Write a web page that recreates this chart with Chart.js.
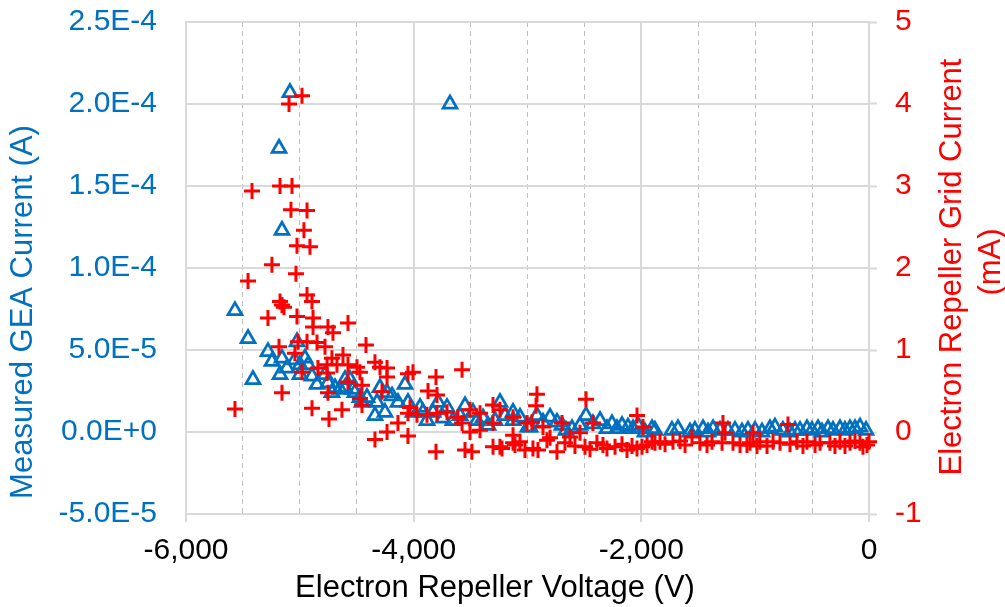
<!DOCTYPE html>
<html>
<head>
<meta charset="utf-8">
<script src="https://cdn.jsdelivr.net/npm/chart.js@4.4.1/dist/chart.umd.min.js"></script>
<style>
  html, body { margin: 0; padding: 0; background: #ffffff; }
  canvas { display: block; }
</style>
</head>
<body>
<canvas id="chart" width="1005" height="607"></canvas>
<script>
// Electron repeller grid current (mA), plotted against the right axis
const gridVoltage = [
  -4981, -5095, -5420, -5174, -5069, -5078, -4937, -4964, -5025, -4911,
  -5245, -5034, -5455, -4937, -4893, -5174, -5157, -5139, -5025, -5280,
  -4884, -4884, -4753, -4709, -4577, -5016, -4937, -4849, -4779, -5183,
  -5043, -4419, -4718, -4621, -4674, -4761, -4577, -4498, -4841, -4340,
  -4296, -4234, -4234, -4472, -4981, -4761, -4006, -4050, -3804, -3575,
  -4577, -4454, -5157, -4753, -4278, -3874, -3795, -4472, -4454, -4893,
  -4630, -5570, -4744, -4032, -4050, -3971, -4138, -4234, -4340, -4050,
  -3883, -3795, -3707, -3611, -3505, -3417, -3303, -3242, -3127, -3004,
  -3575, -3505, -3417, -3804, -3549, -3488, -3303, -3224, -3127, -3066,
  -3127, -3303, -2917, -2925, -2486, -2038, -2961, -2697, -2864, -3242,
  -3110, -2952, -2908, -2741, -2671, -2802, -2539, -2495, -2425, -2390,
  -2302, -2231, -2126, -2038, -1985, -1994, -1906, -1880, -1722, -1616,
  -1555, -1423, -1379, -1283, -1265, -1291, -1195, -1133, -1072, -1019,
  -1045, -958, -843, -782, -712, -633, -545, -430, -343, -255,
  -167, -79, -18, -211, -123, -53, 0, -299, -474, -580,
  -694, -896, -984, -1485, -1660, -1792, -1836, -1950, -2082, -2170,
  -2337, -2451, -2583, -2627, -2829, -3022
];
const gridCurrent = [
  4.10, 4.00, 2.94, 3.00, 3.00, 2.71, 2.70, 2.46, 2.27, 2.26,
  2.04, 1.93, 1.84, 1.67, 1.59, 1.59, 1.55, 1.52, 1.41, 1.39,
  1.39, 1.28, 1.28, 1.21, 1.33, 1.10, 1.10, 1.09, 1.04, 1.04,
  0.96, 1.06, 0.90, 0.94, 0.82, 0.82, 0.82, 0.79, 0.78, 0.85,
  0.79, 0.78, 0.67, 0.73, 0.73, 0.72, 0.73, 0.71, 0.67, 0.76,
  0.61, 0.57, 0.48, 0.48, 0.49, 0.50, 0.45, 0.41, 0.33, 0.29,
  0.27, 0.28, 0.16, 0.30, 0.23, 0.21, 0.11, 0.00, -0.09, -0.05,
  0.21, 0.23, 0.24, 0.18, 0.27, 0.23, 0.33, 0.27, 0.18, 0.11,
  0.11, 0.00, 0.02, -0.24, -0.22, -0.24, -0.18, -0.20, -0.13, -0.12,
  -0.04, 0.11, 0.46, 0.32, 0.40, 0.20, 0.12, 0.11, 0.06, -0.18,
  -0.16, -0.20, -0.22, -0.24, -0.13, -0.07, -0.01, -0.18, 0.11, -0.13,
  -0.20, -0.18, -0.22, -0.20, 0.06, -0.18, -0.12, -0.13, -0.12, -0.16,
  -0.06, -0.16, -0.12, 0.11, -0.01, -0.13, -0.13, -0.16, -0.16, -0.01,
  -0.13, -0.12, -0.12, -0.13, 0.09, -0.12, -0.12, -0.13, -0.13, -0.12,
  -0.13, -0.13, -0.16, -0.17, -0.11, -0.18, -0.12, -0.17, -0.16, -0.17,
  -0.15, -0.17, -0.17, -0.13, -0.11, -0.15, -0.12, -0.16, -0.17, -0.15,
  -0.16, -0.21, -0.17, -0.06, -0.10, -0.22
];

// Measured GEA current (A), plotted against the left axis
const geaVoltage = [
  -5570, -5455, -5412, -5280, -5245, -5183, -5174, -5157, -5157, -5113,
  -5087, -5025, -5043, -4999, -4955, -4928, -4999, -4893, -4849, -4779,
  -4753, -4718, -4691, -4647, -4603, -4559, -4533, -4472, -4454, -4410,
  -4322, -4296, -4340, -4252, -4234, -4138, -4076, -4050, -4006, -3918,
  -3883, -3830, -3786, -3707, -3655, -3681, -3549, -3479, -3444, -3347,
  -3242, -3127, -3066, -2996, -4190, -3944, -3742, -3593, -3391, -3286,
  -4516, -4603, -3198, -3127, -2978, -2917, -2864, -2802, -2741, -2697,
  -2662, -2609, -2539, -2486, -2425, -2363, -2302, -2258, -2214, -2170,
  -2117, -2073, -2029, -1968, -1906, -1880, -1731, -1678, -1573, -1529,
  -1458, -1414, -1370, -1309, -1239, -1177, -1116, -1063, -1001, -940,
  -870, -826, -756, -694, -650, -606, -545, -501, -448, -413,
  -360, -316, -255, -211, -167, -123, -79, -26
];
const geaCurrent = [
  7.4e-5, 5.7e-5, 3.2e-5, 4.9e-5, 4.3e-5, 1.73e-4, 3.5e-5, 1.23e-4, 4.5e-5, 3.9e-5,
  2.07e-4, 5.5e-5, 4.4e-5, 4.1e-5, 4.5e-5, 4.1e-5, 3.5e-5, 3.4e-5, 2.9e-5, 3.5e-5,
  3.0e-5, 2.4e-5, 2.7e-5, 2.6e-5, 2.7e-5, 3.2e-5, 2.6e-5, 2.1e-5, 1.8e-5, 2.1e-5,
  1.8e-5, 2.7e-5, 1.0e-5, 1.2e-5, 2.4e-5, 1.8e-5, 2.9e-5, 1.8e-5, 1.2e-5, 1.2e-5,
  7e-6, 1.2e-5, 1.8e-5, 1.5e-5, 7e-6, 2.0e-4, 1.6e-5, 1.2e-5, 7e-6, 4e-6,
  1.8e-5, 1.2e-5, 9e-6, 3e-6, 2.2e-5, 1.5e-5, 8.5e-6, 1.0e-5, 8.5e-6, 7e-6,
  2.4e-5, 3.2e-5, 1.0e-5, 7e-6, 3e-6, 1.0e-5, 6e-6, 9e-6, 6e-6, 4e-6,
  1e-6, 2e-6, 4e-6, 1.0e-5, 5e-6, 7e-6, 2e-6, 5e-6, 2e-6, 4e-6,
  3e-6, 2e-6, 4e-6, 0, 2e-6, 1e-6, 1e-6, 2e-6, 0, 1e-6,
  2e-6, 0, 2e-6, 1e-6, 1e-6, 1e-6, 0, 1e-6, 1e-6, 0,
  2e-6, 3e-6, 1e-6, 0, 1e-6, 1e-6, 2e-6, 1e-6, 2e-6, 0,
  2e-6, 1e-6, 2e-6, 1e-6, 2e-6, 2e-6, 3e-6, 1e-6
];

// Axis tick labels
const xMajorTicks = [-6000, -4000, -2000, 0];
const xTickLabels = ['-6,000', '-4,000', '-2,000', '0'];
const leftTickLabels = ['-5.0E-5', '0.0E+0', '5.0E-5', '1.0E-4', '1.5E-4', '2.0E-4', '2.5E-4'];
const rightTickLabels = ['-1', '0', '1', '2', '3', '4', '5'];

// Axis titles
const xTitle = 'Electron Repeller Voltage (V)';
const leftTitle = 'Measured GEA Current (A)';
const rightTitle = ['Electron Repeller Grid Current', '(mA)'];

const BLUE = '#0070C0';
const RED = '#FF0000';
const GRID = '#D9D9D9';
const FONT = '"Liberation Sans", Arial, Helvetica, sans-serif';

const toPoints = (xs, ys) => xs.map((x, i) => ({ x: x, y: ys[i] }));
const isMajorX = v => xMajorTicks.includes(v);

// Fixed box sizes so the plot area sits where the axis labels expect it
function fixBox(width, height) {
  return function (scale) {
    if (width !== null) scale.width = width;
    if (height !== null) scale.height = height;
    scale.paddingTop = 0;
    scale.paddingBottom = 0;
    scale.paddingLeft = 0;
    scale.paddingRight = 0;
  };
}

const axisTitles = {
  id: 'axisTitles',
  afterDraw(chart) {
    const ctx = chart.ctx;
    ctx.save();
    ctx.font = '31px ' + FONT;
    ctx.textAlign = 'center';
    ctx.textBaseline = 'middle';

    ctx.fillStyle = '#000000';
    ctx.fillText(xTitle, 495, 588);

    ctx.save();
    ctx.translate(23, 312);
    ctx.rotate(-Math.PI / 2);
    ctx.fillStyle = BLUE;
    ctx.fillText(leftTitle, 0, 0);
    ctx.restore();

    ctx.save();
    ctx.translate(952, 267);
    ctx.rotate(-Math.PI / 2);
    ctx.fillStyle = RED;
    ctx.fillText(rightTitle[0], 0, 0);
    ctx.fillText(rightTitle[1], 5, 39);
    ctx.restore();

    ctx.restore();
  }
};

Chart.defaults.font.family = FONT;

new Chart(document.getElementById('chart'), {
  type: 'scatter',
  data: {
    datasets: [
      {
        label: 'Electron Repeller Grid Current',
        data: toPoints(gridVoltage, gridCurrent),
        yAxisID: 'y2',
        pointStyle: 'cross',
        pointRadius: 8,
        pointBorderWidth: 3,
        borderColor: RED,
        backgroundColor: RED,
        order: 0,
        clip: false
      },
      {
        label: 'Measured GEA Current',
        data: toPoints(geaVoltage, geaCurrent),
        yAxisID: 'y',
        pointStyle: 'triangle',
        pointRadius: 8,
        pointBorderWidth: 2.75,
        borderColor: BLUE,
        backgroundColor: 'rgba(0,0,0,0)',
        order: 1,
        clip: false
      }
    ]
  },
  options: {
    responsive: false,
    animation: false,
    devicePixelRatio: 1,
    layout: { padding: { top: 22, left: 0, right: 0, bottom: 0 } },
    plugins: {
      legend: { display: false },
      tooltip: { enabled: false }
    },
    scales: {
      x: {
        type: 'linear',
        position: 'bottom',
        min: -6000,
        max: 0,
        afterFit: fixBox(null, 93),
        ticks: {
          stepSize: 500,
          autoSkip: false,
          maxRotation: 0,
          padding: 11,
          color: '#000000',
          font: { size: 30 },
          callback(value) {
            const i = xMajorTicks.indexOf(value);
            return i >= 0 ? xTickLabels[i] : '';
          }
        },
        grid: {
          color: ctx => (ctx.tick && isMajorX(ctx.tick.value)) ? GRID : '#BFBFBF',
          lineWidth: ctx => (ctx.tick && isMajorX(ctx.tick.value)) ? 2 : 1,
          drawTicks: true,
          tickLength: 8,
          tickWidth: 2,
          tickColor: ctx => (ctx.tick && isMajorX(ctx.tick.value)) ? GRID : 'rgba(0,0,0,0)'
        },
        border: {
          color: GRID,
          width: 2,
          dash: ctx => (ctx.tick && !isMajorX(ctx.tick.value)) ? [5, 4] : []
        }
      },
      y: {
        type: 'linear',
        position: 'left',
        min: -5e-5,
        max: 2.5e-4,
        afterFit: fixBox(186, null),
        ticks: {
          stepSize: 5e-5,
          padding: 29,
          color: BLUE,
          font: { size: 30 },
          callback(value, index) { return leftTickLabels[index]; }
        },
        grid: {
          color: GRID,
          lineWidth: 2,
          drawTicks: false
        },
        border: { color: GRID, width: 2 }
      },
      y2: {
        type: 'linear',
        position: 'right',
        min: -1,
        max: 5,
        afterFit: fixBox(136, null),
        ticks: {
          stepSize: 1,
          padding: 18,
          color: RED,
          font: { size: 30 },
          callback(value, index) { return rightTickLabels[index]; }
        },
        grid: {
          drawOnChartArea: false,
          drawTicks: true,
          tickLength: 8,
          tickWidth: 2,
          tickColor: GRID,
          color: GRID
        },
        border: { color: GRID, width: 2 }
      }
    }
  },
  plugins: [axisTitles]
});
</script>
</body>
</html>
